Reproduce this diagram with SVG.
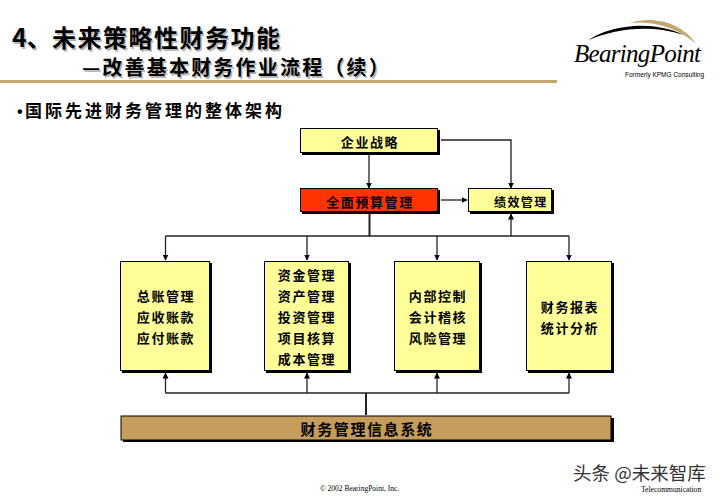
<svg xmlns="http://www.w3.org/2000/svg" width="720" height="498" viewBox="0 0 720 498">
<style>
text{font-family:"Noto Sans CJK SC","Noto Sans",sans-serif;font-weight:700;fill:#000}
.box{stroke:#000;stroke-width:1;fill:#ffff99}
.sh{fill:#000}
.t{font-size:13px;letter-spacing:1.6px;text-anchor:middle}
.c{fill:none;stroke:#222;stroke-width:1.3}
.ser{font-family:"Liberation Serif",serif;font-weight:400}
.ts{fill:#999;opacity:.7}
</style>
<defs>
<marker id="a" markerWidth="6" markerHeight="7" refX="5.500" refY="3" orient="auto" markerUnits="userSpaceOnUse"><path d="M0 0L6 3L0 6z" fill="#000"/></marker>
</defs>
<rect width="720" height="498" fill="#fff"/>
<g id="header">
<text class="ts" x="13.5" y="48.5" font-size="25">4、</text>
<text x="12" y="47" font-size="25">4、</text>
<text class="ts" x="53.5" y="48.5" font-size="24" letter-spacing="1.5">未来策略性财务功能</text>
<text x="52" y="47" font-size="24" letter-spacing="1.5">未来策略性财务功能</text>
<text class="ts" x="83.5" y="76.5" font-size="20" letter-spacing="2.2">—改善基本财务作业流程（续）</text>
<text x="82" y="75" font-size="20" letter-spacing="2.2">—改善基本财务作业流程（续）</text>
<rect x="0" y="80" width="557" height="3" fill="#c6a76c"/>
<text x="17" y="117" font-size="16" style="font-family:'Liberation Sans',sans-serif">•</text>
<text x="25" y="117" font-size="17" letter-spacing="3">国际先进财务管理的整体架构</text>
</g>
<g id="logo">
<path d="M589 40C606 27 650 18 684 35C650 24 615 29 589 40z" fill="#000"/>
<path d="M630 23C655 15 683 24 696 44C680 29 655 20 630 23z" fill="#c6a76c"/>
<text class="ser" x="574" y="62" font-size="25" font-style="italic" letter-spacing="-.7" fill="#222">BearingPoint</text>
<text x="625" y="77" font-size="6.500" fill="#444" style="font-family:'Liberation Sans',sans-serif;font-weight:400">Formerly KPMG Consulting</text>
</g>
<g id="connectors">
<path class="c" marker-end="url(#a)" d="M369 155V188"/>
<path class="c" marker-end="url(#a)" d="M441 140H511V188"/>
<path class="c" marker-end="url(#a)" d="M441 200H467"/>
<path class="c" style="stroke-width:2" d="M369.5 214V236"/>
<path class="c" d="M165.5 236H569"/>
<path class="c" marker-end="url(#a)" d="M165.5 236V260"/>
<path class="c" marker-end="url(#a)" d="M307 236V260"/>
<path class="c" marker-end="url(#a)" d="M437 236V260"/>
<path class="c" marker-end="url(#a)" d="M569 236V260"/>
<path class="c" marker-end="url(#a)" d="M511 236V214"/>
<path class="c" d="M165.5 393H569"/>
<path class="c" marker-end="url(#a)" d="M165.5 393V373"/>
<path class="c" marker-end="url(#a)" d="M307 393V373"/>
<path class="c" marker-end="url(#a)" d="M437 393V373"/>
<path class="c" marker-end="url(#a)" d="M569 393V373"/>
<path class="c" style="stroke-width:2" d="M366 393V415"/>
</g>
<g id="strategy">
<rect class="sh" x="302" y="130" width="138" height="25"/>
<rect class="box" x="300.500" y="128.500" width="137" height="24"/>
<text class="t" x="370" y="147">企业战略</text>
</g>
<g id="budget">
<rect class="sh" x="302" y="190" width="138" height="24"/>
<rect class="box" style="fill:#ff3300" x="300.500" y="188.500" width="137" height="23"/>
<text class="t" x="370" y="207">全面预算管理</text>
</g>
<g id="performance">
<rect class="sh" x="470" y="190" width="84" height="24"/>
<rect class="box" x="468.500" y="188.500" width="83" height="23"/>
<text x="494" y="207" font-size="12" letter-spacing="1.400">绩效管理</text>
</g>
<g id="ledger">
<rect class="sh" x="122" y="263" width="90" height="110"/>
<rect class="box" x="120.500" y="261.500" width="89" height="109"/>
<text class="t" x="166" y="301">总账管理</text>
<text class="t" x="166" y="322">应收账款</text>
<text class="t" x="166" y="343">应付账款</text>
</g>
<g id="funds">
<rect class="sh" x="266" y="263" width="85" height="110"/>
<rect class="box" x="264.500" y="261.500" width="84" height="109"/>
<text class="t" x="307" y="280">资金管理</text>
<text class="t" x="307" y="301">资产管理</text>
<text class="t" x="307" y="322">投资管理</text>
<text class="t" x="307" y="343">项目核算</text>
<text class="t" x="307" y="364">成本管理</text>
</g>
<g id="control">
<rect class="sh" x="396" y="263" width="86" height="110"/>
<rect class="box" x="394.500" y="261.500" width="85" height="109"/>
<text class="t" x="438" y="301">内部控制</text>
<text class="t" x="438" y="322">会计稽核</text>
<text class="t" x="438" y="343">风险管理</text>
</g>
<g id="report">
<rect class="sh" x="528" y="263" width="86" height="110"/>
<rect class="box" x="526.500" y="261.500" width="85" height="109"/>
<text class="t" x="570" y="312">财务报表</text>
<text class="t" x="570" y="333">统计分析</text>
</g>
<g id="system">
<rect class="sh" x="123" y="418" width="491" height="24"/>
<rect class="box" style="fill:#c69c5c" x="121" y="416" width="490" height="24"/>
<text x="367" y="435" font-size="15" letter-spacing="1.6" text-anchor="middle">财务管理信息系统</text>
</g>
<g id="footer">
<text class="ser" x="320" y="491" font-size="7.500" fill="#333">© 2002 BearingPoint, Inc.</text>
<text x="573" y="480" font-size="18.500" style="font-weight:400;fill:#333">头条 @未来智库</text>
<text class="ser" x="641" y="492" font-size="7.600" fill="#444">Telecommunication</text>
</g>
</svg>
